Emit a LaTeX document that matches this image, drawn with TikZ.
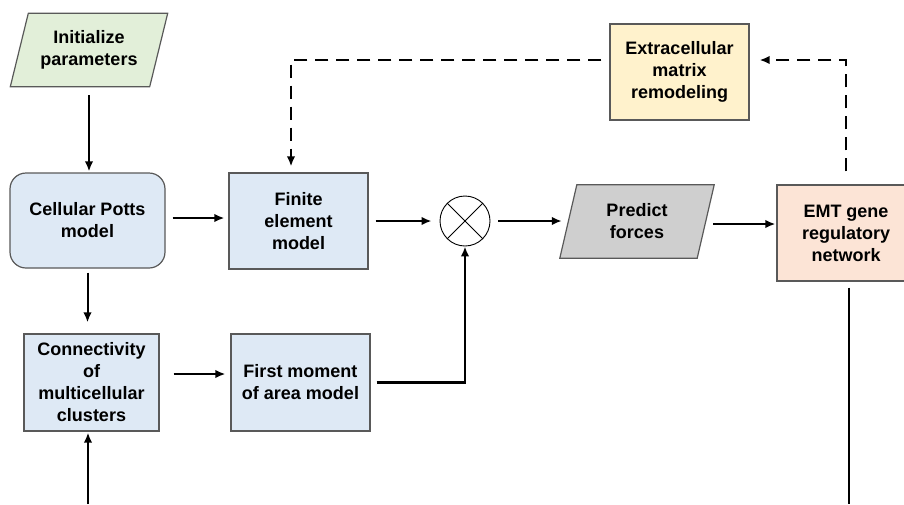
\documentclass[tikz,border=0pt]{standalone}
\usepackage{fontspec}
\setmainfont{Liberation Sans}
\usetikzlibrary{arrows.meta, backgrounds}

\definecolor{initgreen}{HTML}{E2EFD9}
\definecolor{modelblue}{HTML}{DEE9F5}
\definecolor{ecmyellow}{HTML}{FFF2CC}
\definecolor{emtpeach}{HTML}{FCE4D6}
\definecolor{forcegray}{HTML}{CFCFCF}
\definecolor{edgegray}{HTML}{595959}

\begin{document}
\begin{tikzpicture} [x=1pt, y=-1pt, >={Latex[length=10pt,width=8.5pt]},
		font=\fontsize{18}{22}\selectfont\bfseries,
		block/.style={draw=edgegray, line width=1.2pt, fill=modelblue, align=center, inner sep=0pt},
		iobox/.style={align=center, inner sep=0pt, minimum height=73pt},
		flow/.style={->, line width=2.8pt, shorten <=7pt, shorten >=5pt},
		feedback/.style={->, line width=2.8pt, dash pattern=on 13pt off 8pt}]
		%\draw [thin, help lines] (0,0) grid (904,504);
		\clip (0,0) rectangle (904,504);
		\node[iobox, minimum width=139pt] (init) at (89,50) {Initialize\\parameters};
		\node[block, rounded corners=16pt, minimum width=155pt, minimum height=95pt] (cpm) at (87.5,220.5) {Cellular Potts\\model};
		\node[block, minimum width=139pt, minimum height=96pt] (fem) at (298.5,221) {Finite\\element\\model};
		\node[block, minimum width=135pt, minimum height=97pt] (conn) at (91.5,382.5) {Connectivity\\of\\multicellular\\clusters};
		\node[block, minimum width=139pt, minimum height=97pt] (fmoa) at (300.5,382.5) {First moment\\of area model};
		\node[draw, circle, line width=0.9pt, minimum size=50pt, inner sep=0pt] (prod) at (465,221) {};
		\draw[line width=0.9pt] (prod.north west) -- (prod.south east) (prod.north east) -- (prod.south west);
		\node[iobox, minimum width=137pt] (pred) at (637,221.5) {Predict\\forces};
		\node[block, fill=emtpeach, minimum width=138pt, minimum height=96pt] (emt) at (846,233) {EMT gene\\regulatory\\network};
		\node[block, fill=ecmyellow, minimum width=139pt, minimum height=96pt] (ecm) at (679.5,72) {Extracellular\\matrix\\remodeling};
		\begin{scope}[on background layer]
			\draw[fill=initgreen, draw=edgegray, line width=1.2pt] ([xshift=9pt]init.north west) -- ([xshift=9pt]init.north east) -- ([xshift=-9pt]init.south east) -- ([xshift=-9pt]init.south west) -- cycle;
			\draw[fill=forcegray, draw=edgegray, line width=1.2pt] ([xshift=8.5pt]pred.north west) -- ([xshift=8.5pt]pred.north east) -- ([xshift=-8.5pt]pred.south east) -- ([xshift=-8.5pt]pred.south west) -- cycle;
		\end{scope}
		\coordinate (loopR) at (846,60);
		\coordinate (loopL) at (291,60);
		\coordinate (emtexit) at (849,504);
		\coordinate (connentry) at (88,504);
		\draw[flow, line width=2.4pt, shorten <=8.5pt, shorten >=1pt] (init.south) -- (init.south |- cpm.north);
		\draw[flow, shorten >=4pt] ([yshift=2.5pt]cpm.east) -- ([yshift=2.5pt]cpm.east -| fem.west);
		\draw[flow, line width=2pt, shorten <=4pt, shorten >=11pt] (cpm.south) -- (cpm.south |- conn.north);
		\draw[flow, shorten <=14pt] ([yshift=8.5pt]conn.east) -- ([yshift=8.5pt]conn.east -| fmoa.west);
		\draw[flow, shorten >=8pt] (fem.east) -- (fem.east -| prod.west);
		\draw[flow, shorten <=6pt, shorten >=0pt] (fmoa.east) -| (prod.south);
		\draw[flow, shorten <=8pt, shorten >=6.5pt] (prod.east) -- (prod.east -| pred.west);
		\draw[flow, shorten <=7.5pt, shorten >=1pt] ([yshift=-2.5pt]pred.east) -- ([yshift=-2.5pt]pred.east -| emt.west);
		\draw[feedback, shorten <=13pt, shorten >=10pt] (emt.north) -- (loopR) -- (ecm.east |- loopR);
		\draw[feedback, shorten <=8pt, shorten >=6pt] (ecm.west |- loopL) -- (loopL) -- (loopL |- fem.north);
		\draw[line width=2.4pt, shorten <=6pt] (emtexit |- emt.south) -- (emtexit);
		\draw[flow, shorten <=0pt, shorten >=1pt] (connentry) -- (connentry |- conn.south);
	\end{tikzpicture}
\end{document}
